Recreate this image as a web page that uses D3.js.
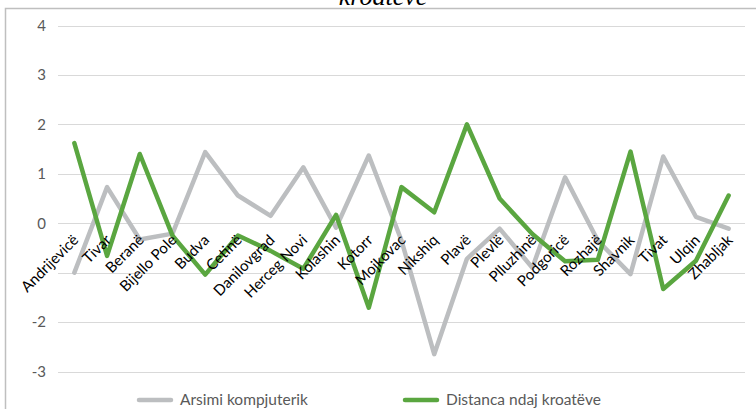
<!DOCTYPE html>
<html>
<head>
<meta charset="utf-8">
<script src="https://cdn.jsdelivr.net/npm/d3@7"></script>
<style>
  html, body { margin: 0; padding: 0; background: #fff; }
  svg { display: block; }
</style>
</head>
<body>
<svg id="chart" width="756" height="409"></svg>
<script>
const categories = ["Andrijevicë","Tivar","Beranë","Bijello Pole","Budva","Cetinë","Danilovgrad","Herceg Novi","Kolashin","Kotorr","Mojkovac","Nikshiq","Plavë","Plevlë","Plluzhinë","Podgoricë","Rozhajë","Shavnik","Tivat","Ulqin","Zhabljak"];
const arsimiKompjuterik = [-1.0, 0.73, -0.33, -0.21, 1.44, 0.56, 0.15, 1.13, -0.09, 1.37, -0.35, -2.65, -0.72, -0.11, -0.9, 0.93, -0.35, -1.03, 1.35, 0.13, -0.11];
const distancaNdajKroateve = [1.62, -0.66, 1.40, -0.25, -1.04, -0.25, -0.56, -0.92, 0.17, -1.71, 0.73, 0.22, 2.0, 0.5, -0.22, -0.77, -0.74, 1.45, -1.33, -0.76, 0.56];
const gridValues = [-3, -2, -1, 0, 1, 2, 3, 4];
const tickLabels = [4, 3, 2, 1, 0, -2, -3];
const seriesNames = ["Arsimi kompjuterik", "Distanca ndaj kroatëve"];
const seriesColors = ["#bcbec0", "#5aa640"];
const titleText = "kroatëve";

const svg = d3.select("#chart");
const font = "Lato, 'Open Sans', sans-serif";

const x = d3.scaleBand().domain(categories).range([58, 745]).padding(0);
const y = d3.scaleLinear().domain([-3, 4]).range([371.5, 25.5]);
const cx = d => x(d) + x.bandwidth() / 2;

// frame
svg.append("path")
  .attr("d", "M5.5,409 L5.5,8.5 L756,8.5")
  .attr("fill", "none").attr("stroke", "#bfbfbf").attr("stroke-width", 1.5);

// title (cut off at top as in the reference)
svg.append("text")
  .attr("x", 383).attr("y", 5)
  .attr("text-anchor", "middle")
  .attr("font-family", "'Liberation Serif', 'DejaVu Serif', serif")
  .attr("font-style", "italic")
  .attr("font-size", 26)
  .attr("fill", "#000")
  .text(titleText);

// gridlines
svg.append("g").selectAll("line").data(gridValues).join("line")
  .attr("x1", 58).attr("x2", 745)
  .attr("y1", d => Math.round(y(d)) + 0.5).attr("y2", d => Math.round(y(d)) + 0.5)
  .attr("stroke", "#d9d9d9").attr("stroke-width", 1);

// y axis labels
const yAxis = d3.axisLeft(y).tickValues(tickLabels).tickSize(0).tickPadding(0).tickFormat(d => String(d));
const gy = svg.append("g").attr("transform", "translate(46,0)").call(yAxis);
gy.select(".domain").remove();
gy.selectAll("text")
  .attr("font-family", font).attr("font-size", 15).attr("fill", "#595959");

// lines
const line = d3.line().x((d, i) => cx(categories[i])).y(d => y(d));
[arsimiKompjuterik, distancaNdajKroateve].forEach((vals, i) => {
  svg.append("path")
    .datum(vals)
    .attr("d", line)
    .attr("fill", "none")
    .attr("stroke", seriesColors[i])
    .attr("stroke-width", 4.5)
    .attr("stroke-linejoin", "round")
    .attr("stroke-linecap", "round");
});

// category labels
svg.append("g").selectAll("text").data(categories).join("text")
  .attr("transform", d => `translate(${cx(d) + 5},${241}) rotate(-45)`)
  .attr("text-anchor", "end")
  .attr("font-family", font)
  .attr("font-size", 15)
  .attr("fill", "#000")
  .text(d => d);

// legend
const legendX = [137, 403];
seriesNames.forEach((name, i) => {
  svg.append("line")
    .attr("x1", legendX[i] + 2).attr("x2", legendX[i] + 34)
    .attr("y1", 400).attr("y2", 400)
    .attr("stroke", seriesColors[i]).attr("stroke-width", 4.5)
    .attr("stroke-linecap", "round");
  svg.append("text")
    .attr("x", legendX[i] + 43).attr("y", 405)
    .attr("font-family", font).attr("font-size", 15.5)
    .attr("fill", "#595959")
    .text(name);
});
</script>
</body>
</html>
